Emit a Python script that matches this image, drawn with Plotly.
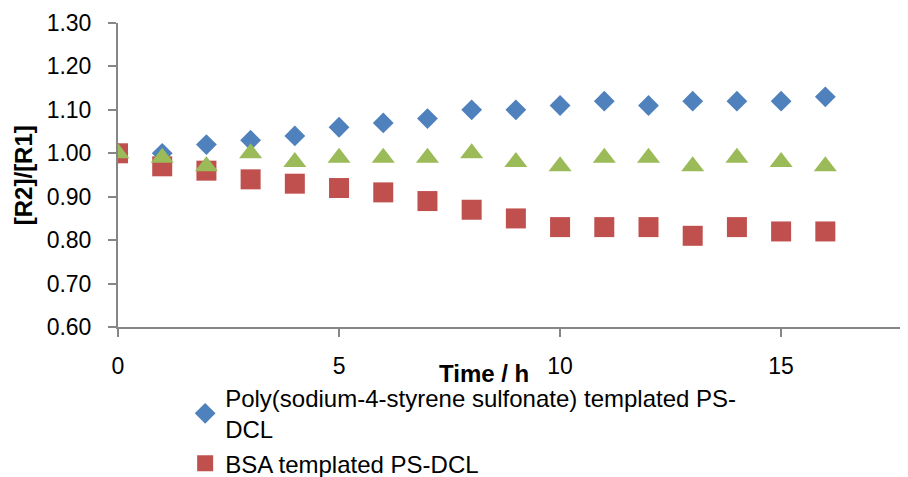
import plotly.graph_objects as go

# Data
time_h = list(range(17))
pss_ratio = [1.00, 1.00, 1.02, 1.03, 1.04, 1.06, 1.07, 1.08, 1.10, 1.10,
             1.11, 1.12, 1.11, 1.12, 1.12, 1.12, 1.13]
bsa_ratio = [1.00, 0.97, 0.96, 0.94, 0.93, 0.92, 0.91, 0.89, 0.87, 0.85,
             0.83, 0.83, 0.83, 0.81, 0.83, 0.82, 0.82]
untemplated_ratio = [1.00, 0.99, 0.97, 1.00, 0.98, 0.99, 0.99, 0.99, 1.00, 0.98,
                     0.97, 0.99, 0.99, 0.97, 0.99, 0.98, 0.97]

y_ticks = [0.60, 0.70, 0.80, 0.90, 1.00, 1.10, 1.20, 1.30]
x_ticks = [0, 5, 10, 15]

FONT = "Liberation Sans, Arial, sans-serif"
AXIS_GREY = "#868686"

fig = go.Figure()

fig.add_trace(go.Scatter(
    x=time_h, y=pss_ratio, mode='markers',
    name='Poly(sodium-4-styrene sulfonate) templated PS-<br>DCL',
    legendgroup='pss',
    marker=dict(symbol='diamond', size=16, color='#4F81BD'),
))
fig.add_trace(go.Scatter(
    x=time_h, y=bsa_ratio, mode='markers',
    name='BSA templated PS-DCL',
    legendgroup='bsa',
    marker=dict(symbol='square', size=20, color='#C0504D'),
))
fig.add_trace(go.Scatter(
    x=time_h, y=untemplated_ratio, mode='markers',
    name='Untemplated PS-DCL',
    legendgroup='untemplated',
    marker=dict(symbol='triangle-up', size=20, color='#9BBB59'),
    showlegend=False,
))

fig.update_xaxes(
    range=[0, 17.87], tickvals=x_ticks, showgrid=False, zeroline=False,
    showline=True, linecolor=AXIS_GREY, linewidth=2,
    ticks='outside', tickcolor=AXIS_GREY, ticklen=8, tickwidth=2,
    ticklabelstandoff=9, tickfont=dict(size=23, color='black'),
)
fig.update_yaxes(
    range=[0.6, 1.3], tickvals=y_ticks, tickformat='.2f', showgrid=False,
    zeroline=False, showline=True, linecolor=AXIS_GREY, linewidth=2,
    ticks='outside', tickcolor=AXIS_GREY, ticklen=8, tickwidth=2,
    ticklabelstandoff=12, tickfont=dict(size=23, color='black'),
)

fig.add_annotation(
    text='<b>[R2]/[R1]</b>', xref='paper', yref='paper',
    x=-0.12, y=0.5, xanchor='center', yanchor='middle', textangle=-90,
    showarrow=False, font=dict(size=24, color='black'),
)
fig.add_annotation(
    text='<b>Time / h</b>', xref='paper', yref='paper',
    x=0.463, y=-0.152, xanchor='center', yanchor='middle',
    showarrow=False, font=dict(size=24, color='black'),
)

# the page adds ~8px of offset, so margins are trimmed to keep the plot in place
fig.update_layout(
    width=908, height=477,
    margin=dict(l=110, r=8, t=15, b=158, autoexpand=False),
    paper_bgcolor='white', plot_bgcolor='white',
    font=dict(family=FONT, color='black'),
    legend=dict(
        x=0.085, y=-0.16, xanchor='left', yanchor='top',
        orientation='v', font=dict(size=24), itemwidth=30,
        tracegroupgap=0, bgcolor='rgba(0,0,0,0)',
    ),
)

fig.write_html("out.html")
